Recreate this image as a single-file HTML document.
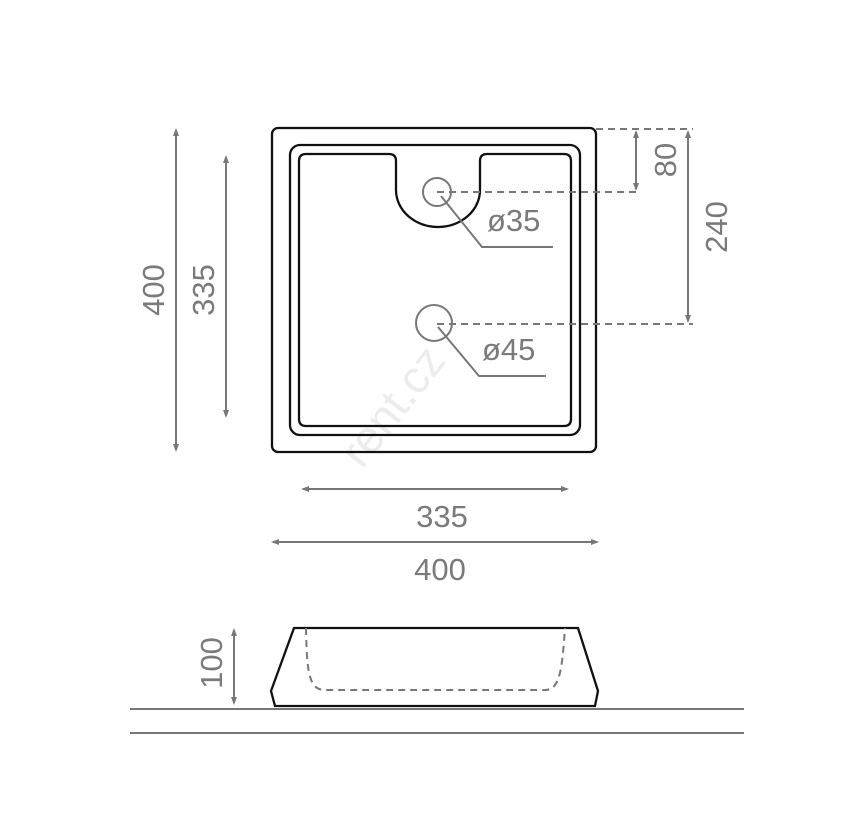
<!DOCTYPE html>
<html><head><style>body{margin:0;background:#fff}svg{display:block}text{font-family:"Liberation Sans",sans-serif;fill:#7a7a7a;font-size:31px}</style></head><body>
<svg width="845" height="814" viewBox="0 0 845 814">
<defs><marker id="a" markerWidth="8" markerHeight="8" refX="6" refY="4" orient="auto-start-reverse" markerUnits="userSpaceOnUse"><path d="M8,4 L0,1 L0,7Z" fill="#777"/></marker></defs>
<text x="362" y="470" transform="rotate(-52 362 470)" style="fill:#ececec;font-size:46px">rent.cz</text>
<g fill="none" stroke="#111" stroke-width="2.3">
<rect x="272" y="128" width="324" height="324" rx="6"/>
<rect x="290" y="145" width="290" height="290" rx="10"/>
<path d="M306,154 H389 Q396,154 396,161 V190 A42,37 0 0 0 480,190 V161 Q480,154 487,154 H564 Q571,154 571,161 V419 Q571,426 564,426 H306 Q299,426 299,419 V161 Q299,154 306,154Z"/>
<path d="M294,628 H578 L598,691 L595,706 H275 L271,691Z"/>
</g>
<g fill="none" stroke="#777" stroke-width="2">
<circle cx="437" cy="192" r="14"/><circle cx="434" cy="323" r="18"/>
<polyline points="441,196 482,247 553,247"/><polyline points="438,327 479,376 546,376"/>
<g stroke-dasharray="7,5"><line x1="596" y1="129" x2="693" y2="129"/><line x1="437" y1="192" x2="636" y2="192"/><line x1="437" y1="324" x2="693" y2="324"/>
<path d="M306,628 C307,670 308,690 325,690 H545 C560,690 562,670 565,628"/></g>
<g marker-start="url(#a)" marker-end="url(#a)">
<line x1="636" y1="132" x2="636" y2="189"/><line x1="688" y1="132" x2="688" y2="321"/>
<line x1="176" y1="130" x2="176" y2="450"/><line x1="226" y1="157" x2="226" y2="416"/>
<line x1="303" y1="489" x2="567" y2="489"/><line x1="273" y1="542" x2="597" y2="542"/>
<line x1="234" y1="630" x2="234" y2="703"/></g>
<line x1="130" y1="709" x2="744" y2="709"/><line x1="130" y1="733" x2="744" y2="733"/>
</g>
<text x="487" y="231">ø35</text><text x="482" y="360">ø45</text>
<text x="442" y="527" text-anchor="middle">335</text><text x="440" y="580" text-anchor="middle">400</text>
<text transform="translate(676,160) rotate(-90)" text-anchor="middle">80</text>
<text transform="translate(727,227) rotate(-90)" text-anchor="middle">240</text>
<text transform="translate(164,290) rotate(-90)" text-anchor="middle">400</text>
<text transform="translate(214,290) rotate(-90)" text-anchor="middle">335</text>
<text transform="translate(222,663) rotate(-90)" text-anchor="middle">100</text>
</svg></body></html>
